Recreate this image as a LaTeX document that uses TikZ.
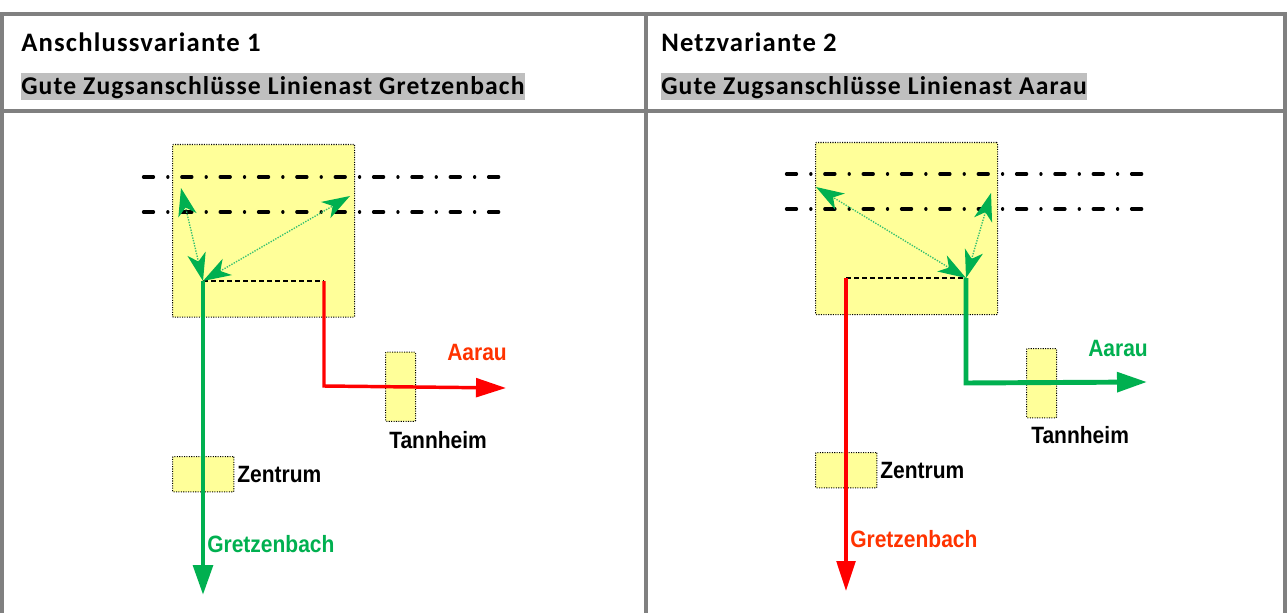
\documentclass[tikz,border=0pt]{standalone}
\usepackage{fontspec}
\setmainfont{Liberation Sans}
\newfontfamily\headfont[LetterSpace=4.5]{Carlito}
\newfontfamily\cityfont[FakeStretch=0.89]{Liberation Sans}
\usetikzlibrary{arrows.meta}
\definecolor{gridgrey}{HTML}{808080}
\definecolor{barCol}{HTML}{BFBFBF}
\definecolor{boxYellow}{HTML}{FFFF99}
\definecolor{lineGreen}{HTML}{00B050}
\definecolor{lightGreen}{HTML}{33C070}
\definecolor{labelRed}{HTML}{FF3300}
\tikzset{
  x=0.75pt,y=-0.75pt,
  gridline/.style={draw=gridgrey,line width=3pt},
  headtext/.style={anchor=base west,inner sep=0pt,font=\headfont\bfseries\fontsize{20}{22}\selectfont,text=black},
  subtext/.style={anchor=base west,inner sep=0pt,font=\headfont\bfseries\fontsize{19.2}{22}\selectfont,text=black},
  bar/.style={fill=barCol,draw=none},
  station/.style={draw=black,fill=boxYellow,densely dotted,line width=0.8pt,rounded corners=0.6pt},
  track/.style={draw=black,line width=2.5pt,line cap=round,dash pattern=on 7.5pt off 10.75pt on 0.01pt off 10.5pt},
  stub/.style={draw=black,line width=1.3pt,dash pattern=on 4pt off 2pt},
  redline/.style={draw=red,line width=2.6pt,-{Triangle[length=22.5pt,width=14pt]},line join=miter},
  greenline/.style={draw=lineGreen,line width=3.7pt,-{Triangle[length=22.5pt,width=14.5pt]},line join=miter},
  transfer/.style={draw=lightGreen,line width=1pt,densely dotted,
     {Stealth[length=21pt,width=14pt,inset=6pt,color=lineGreen,fill=lineGreen]}-{Stealth[length=21pt,width=14pt,inset=6pt,color=lineGreen,fill=lineGreen]}},
  city/.style={anchor=base west,inner sep=0pt,font=\cityfont\bfseries\fontsize{17.7}{20}\selectfont},
}
\begin{document}
\begin{tikzpicture}
\useasboundingbox (0,0) rectangle (1287,613);
\fill[white] (0,0) rectangle (1287,613);
% header bars
\fill[bar] (21,73) rectangle (525,100);
\fill[bar] (661,73) rectangle (1087,100);
\node[headtext] (h1) at (21,52) {Anschlussvariante 1};
\node[subtext] (h2) at (21,95) {Gute Zugsanschlüsse Linienast Gretzenbach};
\node[headtext] (h3) at (661,52) {Netzvariante 2};
\node[subtext] (h4) at (661,95) {Gute Zugsanschlüsse Linienast Aarau};
% grid
\draw[gridline] (2,613) -- (2,14.5) -- (1285,14.5) -- (1285,613);
\draw[gridline] (2,111) -- (1285,111);
\draw[gridline] (646,14.5) -- (646,613);
% left diagram
\node[station,inner sep=0pt,anchor=north west,minimum width=136.5pt,minimum height=129.5pt] (bL) at (172,144) {};
\node[station,inner sep=0pt,anchor=north west,minimum width=22.5pt,minimum height=52pt] (tL) at (385,351.5) {};
\node[station,inner sep=0pt,anchor=north west,minimum width=46pt,minimum height=26.5pt] (zL) at (172,456) {};
\coordinate (a1) at (143.5,177); \coordinate (a2) at (500,177);
\coordinate (a3) at (143.5,212); \coordinate (a4) at (500,212);
\draw[track] (a1) -- (a2);
\draw[track] (a3) -- (a4);
\coordinate (jL) at (203,281); \coordinate (kL) at (324,281);
\coordinate (gL) at (203,595); \coordinate (rL) at (506,388);
\coordinate (cL) at (324,386);
\coordinate (tipL1) at (181,188); \coordinate (tipL2) at (350,196);
\draw[stub] (jL) -- (kL);
\draw[redline] (kL) -- (cL) -- (rL);
\draw[greenline] (jL) -- (gL);
\draw[transfer] (jL) -- (tipL1);
\draw[transfer] (jL) -- (tipL2);
\node[city,text=labelRed] (aL) at (447,360) {Aarau};
\node[city,text=black] (taL) at (389,448) {Tannheim};
\node[city,text=black] (zeL) at (237,482) {Zentrum};
\node[city,text=lineGreen] (grL) at (207,552) {Gretzenbach};
% right diagram
\node[station,inner sep=0pt,anchor=north west,minimum width=136.5pt,minimum height=129pt] (bR) at (815,142) {};
\node[station,inner sep=0pt,anchor=north west,minimum width=22.5pt,minimum height=52pt] (tR) at (1026,348) {};
\node[station,inner sep=0pt,anchor=north west,minimum width=46pt,minimum height=26.5pt] (zR) at (815,452) {};
\coordinate (b1) at (786.5,174); \coordinate (b2) at (1142,174);
\coordinate (b3) at (786.5,209); \coordinate (b4) at (1142,209);
\draw[track] (b1) -- (b2);
\draw[track] (b3) -- (b4);
\coordinate (jR) at (966,278); \coordinate (kR) at (846,278);
\coordinate (gR) at (846,591); \coordinate (rR) at (1147,382);
\coordinate (cR) at (966,383);
\coordinate (tipR1) at (816,187); \coordinate (tipR2) at (991,193);
\draw[stub] (kR) -- (jR);
\draw[redline] (kR) -- (gR);
\draw[greenline] (jR) -- (cR) -- (rR);
\draw[transfer] (jR) -- (tipR1);
\draw[transfer] (jR) -- (tipR2);
\node[city,text=lineGreen] (aR) at (1088,356) {Aarau};
\node[city,text=black] (taR) at (1031,443) {Tannheim};
\node[city,text=black] (zeR) at (880,478) {Zentrum};
\node[city,text=labelRed] (grR) at (850,547) {Gretzenbach};
\end{tikzpicture}
\end{document}
